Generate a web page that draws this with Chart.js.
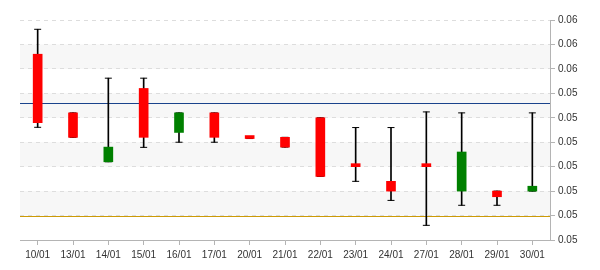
<!DOCTYPE html>
<html>
<head>
<meta charset="utf-8">
<script src="https://cdn.jsdelivr.net/npm/chart.js@4/dist/chart.umd.min.js"></script>
<style>
  html, body { margin: 0; padding: 0; background: #ffffff; }
  #wrap { width: 600px; height: 270px; position: relative; }
</style>
</head>
<body>
<div id="wrap"><canvas id="c" width="600" height="270"></canvas></div>
<script>
const labels = ['10/01','13/01','14/01','15/01','16/01','17/01','20/01','21/01','22/01','23/01','24/01','27/01','28/01','29/01','30/01'];
const openValues  = [0.0556, 0.0532, 0.0512, 0.0542, 0.0524, 0.0532, 0.05222, 0.0522, 0.0530, 0.05102, 0.0504, 0.05102, 0.0500, 0.0500, 0.0500];
const closeValues = [0.0528, 0.0522, 0.0518, 0.0522, 0.0532, 0.0522, 0.05215, 0.0518, 0.0506, 0.0510, 0.0500, 0.0510, 0.0516, 0.04977, 0.0502];
const highValues  = [0.05662, 0.0532, 0.05462, 0.05462, 0.0532, 0.0532, 0.05222, 0.0522, 0.0530, 0.0526, 0.0526, 0.05324, 0.0532, 0.0500, 0.0532];
const lowValues   = [0.05261, 0.0522, 0.0512, 0.05179, 0.0520, 0.0520, 0.05215, 0.0518, 0.0506, 0.0504, 0.04962, 0.0486, 0.04942, 0.04942, 0.0500];
const refLineValues = [0.05359, 0.0490];
const refLineColors = ['#1a438c', '#cc9a06'];
const yTickLabels = ['0.05','0.05','0.05','0.05','0.05','0.05','0.05','0.06','0.06','0.06'];

const bodyColors = openValues.map((o, i) => closeValues[i] < o ? '#ff0000' : '#008000');

const bandPlugin = {
  id: 'bands',
  beforeDraw(chart) {
    const y = chart.scales.y, a = chart.chartArea, ctx = chart.ctx;
    ctx.save();
    ctx.fillStyle = '#f7f7f7';
    for (let i = 1; i + 1 < y.ticks.length; i += 2) {
      const p1 = y.getPixelForValue(y.ticks[i].value);
      const p2 = y.getPixelForValue(y.ticks[i + 1].value);
      ctx.fillRect(a.left, Math.min(p1, p2), a.right - a.left, Math.abs(p1 - p2));
    }
    ctx.restore();
  },
  beforeDatasetsDraw(chart) {
    const y = chart.scales.y, a = chart.chartArea, ctx = chart.ctx;
    ctx.save();
    ctx.lineWidth = 1;
    refLineValues.forEach((v, i) => {
      const py = Math.round(y.getPixelForValue(v)) + 0.5;
      ctx.strokeStyle = refLineColors[i];
      ctx.beginPath();
      ctx.moveTo(a.left, py);
      ctx.lineTo(a.right, py);
      ctx.stroke();
    });
    ctx.restore();
  }
};

const font = { family: '"Liberation Sans", Arial, sans-serif', size: 10 };

new Chart(document.getElementById('c'), {
  type: 'bar',
  data: {
    labels: labels,
    datasets: [
      {
        label: 'body',
        data: openValues.map((o, i) => [o, closeValues[i]]),
        backgroundColor: bodyColors,
        borderColor: bodyColors,
        borderWidth: 0,
        barThickness: 9,
        minBarLength: 3,
        grouped: false,
        order: 0
      },
      {
        type: 'line',
        label: 'highCap',
        data: highValues,
        showLine: false,
        pointStyle: 'line',
        pointRadius: 3.5,
        pointBorderWidth: 1,
        pointBorderColor: '#000000',
        pointBackgroundColor: '#000000',
        order: 1
      },
      {
        type: 'line',
        label: 'lowCap',
        data: lowValues,
        showLine: false,
        pointStyle: 'line',
        pointRadius: 3.5,
        pointBorderWidth: 1,
        pointBorderColor: '#000000',
        pointBackgroundColor: '#000000',
        order: 1
      },
      {
        label: 'wick',
        data: lowValues.map((l, i) => [l, highValues[i]]),
        backgroundColor: '#000000',
        borderWidth: 0,
        barThickness: 1,
        grouped: false,
        order: 2
      }
    ]
  },
  options: {
    responsive: false,
    animation: false,
    layout: { padding: { left: 20, top: 20, right: 0, bottom: 0 } },
    plugins: { legend: { display: false }, tooltip: { enabled: false } },
    scales: {
      x: {
        offset: true,
        grid: { display: true, drawOnChartArea: false, drawTicks: true, tickLength: 5, tickColor: '#b4b4b4', offset: false },
        border: { display: true, color: '#b4b4b4', width: 1 },
        ticks: { color: '#333333', font: font, padding: 4, maxRotation: 0, autoSkip: false },
        afterFit(scale) { scale.height = 30; }
      },
      y: {
        position: 'right',
        min: 0.048,
        max: 0.057,
        grid: { color: '#dddddd', drawTicks: true, tickLength: 5, tickColor: '#b4b4b4' },
        border: { display: true, color: '#b4b4b4', width: 1, dash: [4, 4] },
        ticks: {
          stepSize: 0.001,
          color: '#333333',
          font: font,
          padding: 3,
          callback: (v, i) => yTickLabels[i]
        },
        afterFit(scale) { scale.width = 50; }
      }
    }
  },
  plugins: [bandPlugin]
});
</script>
</body>
</html>
